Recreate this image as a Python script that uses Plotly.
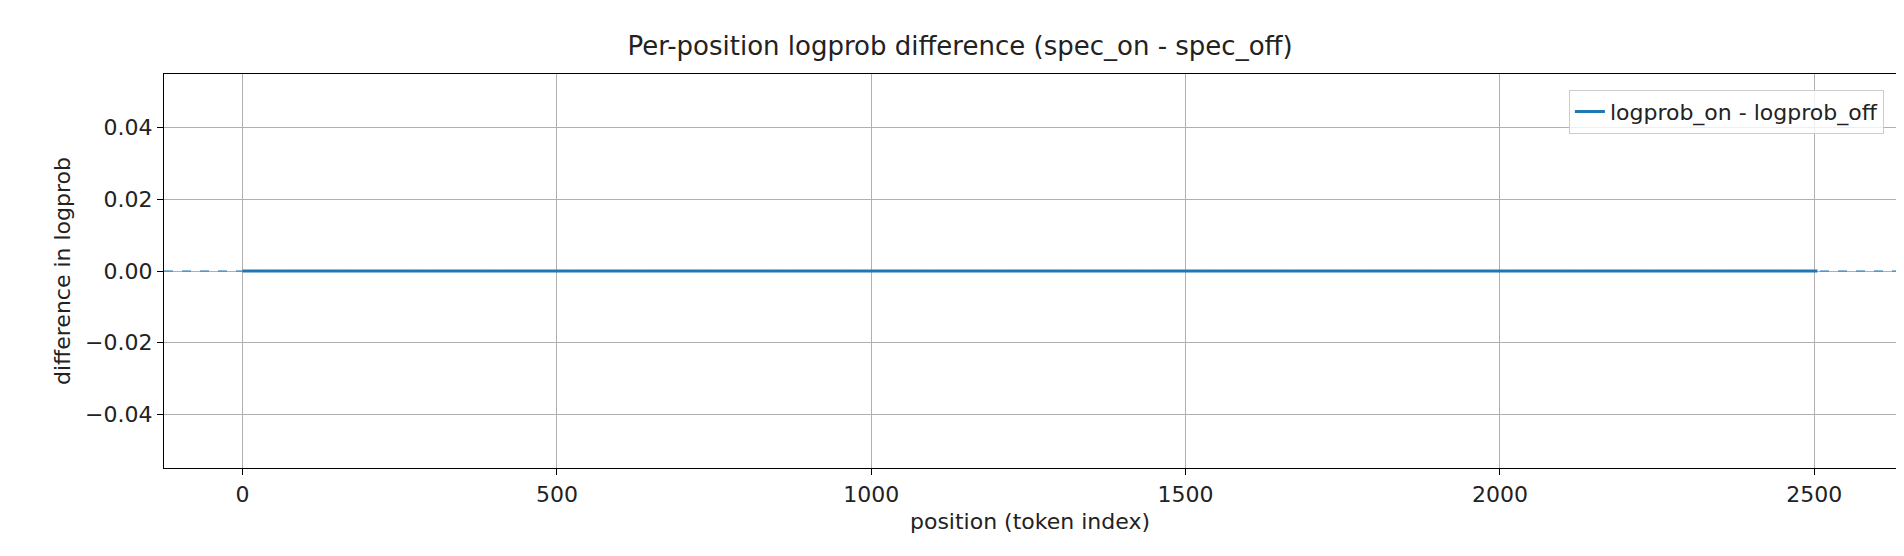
import plotly.graph_objects as go

positions = list(range(2506))
diff = [0.0] * len(positions)
x_ticks = [0, 500, 1000, 1500, 2000, 2500]
y_ticks = [-0.04, -0.02, 0.0, 0.02, 0.04]
y_tick_labels = ["−0.04", "−0.02", "0.00", "0.02", "0.04"]

fig = go.Figure()
fig.add_trace(go.Scatter(x=positions, y=diff, mode="lines", name="logprob_on - logprob_off",
                         line=dict(color="#1f77b4", width=3)))
fig.add_hline(y=0, line=dict(color="#1f77b4", width=1.2, dash="dash"))

ax = dict(showline=True, linecolor="black", linewidth=1.2, mirror=True, ticks="outside",
          ticklen=6, tickcolor="black", showgrid=True, gridcolor="#b0b0b0", gridwidth=1,
          zeroline=False, tickfont=dict(size=22, color="#222"))
fig.update_layout(
    width=1904, height=556, plot_bgcolor="white", paper_bgcolor="white",
    font=dict(family="DejaVu Sans", color="#222"),
    margin=dict(l=156, r=16, t=66, b=96),
    title=dict(text="Per-position logprob difference (spec_on - spec_off)", x=0.5, xanchor="center",
               y=1 - 38/556, yanchor="middle", font=dict(size=26)),
    xaxis=dict(ax, range=[-125, 2630], tickvals=x_ticks,
               title=dict(text="position (token index)", font=dict(size=22), standoff=8)),
    yaxis=dict(ax, range=[-0.055, 0.055], tickvals=y_ticks, ticktext=y_tick_labels,
               title=dict(text="difference in logprob", font=dict(size=22), standoff=8)),
    legend=dict(x=0.993, y=0.96, xanchor="right", yanchor="top", bgcolor="rgba(255,255,255,0.8)",
                bordercolor="#cccccc", borderwidth=1, font=dict(size=22)),
    showlegend=True,
)
fig.write_html("out.html")
